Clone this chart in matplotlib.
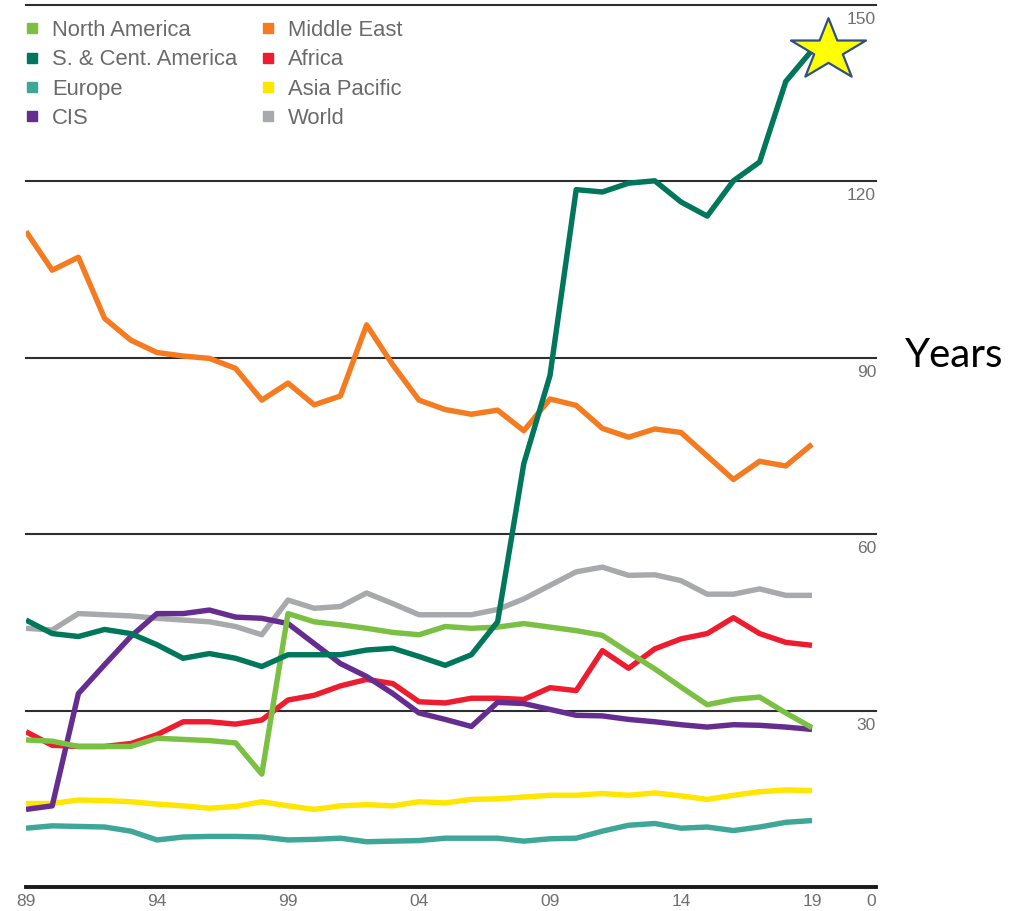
import numpy as np
import matplotlib
matplotlib.use("Agg")
import matplotlib.pyplot as plt
from matplotlib.lines import Line2D
from matplotlib.path import Path

years = np.arange(1989, 2020)

north_america = [25.0, 24.8, 23.9, 23.9, 23.9, 25.3, 25.1, 24.9, 24.5, 19.2, 46.5,
                 45.1, 44.6, 44.0, 43.3, 42.9, 44.3, 44.0, 44.2, 44.8, 44.2, 43.6,
                 42.8, 39.9, 37.1, 34.0, 31.0, 31.9, 32.3, 29.6, 27.1]
sc_america = [45.4, 43.1, 42.6, 43.8, 43.1, 41.2, 38.9, 39.7, 38.9, 37.5, 39.5,
              39.5, 39.5, 40.3, 40.6, 39.2, 37.7, 39.5, 45.1, 72.0, 87.0, 118.6,
              118.2, 119.7, 120.1, 116.5, 114.1, 120.1, 123.3, 137.0, 142.3]
europe = [10.0, 10.4, 10.3, 10.2, 9.5, 8.0, 8.5, 8.6, 8.6, 8.5, 8.0, 8.1, 8.3,
          7.7, 7.8, 7.9, 8.3, 8.3, 8.3, 7.8, 8.2, 8.3, 9.5, 10.5, 10.8, 10.0,
          10.2, 9.6, 10.2, 11.0, 11.3]
cis = [13.2, 13.8, 32.9, 37.8, 42.6, 46.5, 46.5, 47.1, 45.9, 45.7, 44.8, 41.4,
       38.0, 35.8, 32.9, 29.6, 28.5, 27.3, 31.4, 31.2, 30.2, 29.2, 29.1, 28.5,
       28.1, 27.6, 27.2, 27.6, 27.5, 27.2, 26.8]
middle_east = [111.5, 104.9, 107.1, 96.7, 93.0, 90.9, 90.3, 89.9, 88.2, 82.8,
               85.7, 82.0, 83.5, 95.6, 88.8, 82.8, 81.2, 80.4, 81.1, 77.6, 83.0,
               81.9, 78.0, 76.5, 77.9, 77.3, 73.3, 69.3, 72.4, 71.6, 75.3]
africa = [26.4, 24.1, 23.9, 23.9, 24.4, 25.9, 28.1, 28.1, 27.7, 28.4, 31.8, 32.6,
          34.2, 35.3, 34.6, 31.5, 31.3, 32.1, 32.1, 31.9, 33.9, 33.4, 40.2, 37.2,
          40.5, 42.2, 43.1, 45.8, 43.1, 41.6, 41.1]
asia_pacific = [14.2, 14.2, 14.8, 14.7, 14.5, 14.1, 13.8, 13.4, 13.7, 14.5, 13.8,
                13.2, 13.8, 14.0, 13.8, 14.5, 14.3, 14.9, 15.0, 15.3, 15.6, 15.6,
                15.9, 15.6, 16.0, 15.5, 14.9, 15.6, 16.2, 16.5, 16.4]
world = [44.0, 43.7, 46.5, 46.3, 46.1, 45.7, 45.4, 45.1, 44.3, 42.9, 48.8, 47.4,
         47.7, 50.0, 48.2, 46.3, 46.3, 46.3, 47.2, 49.0, 51.3, 53.6, 54.4, 53.0,
         53.1, 52.1, 49.8, 49.8, 50.7, 49.6, 49.6]

legend_names = ["North America", "S. & Cent. America", "Europe", "CIS",
                "Middle East", "Africa", "Asia Pacific", "World"]
colors = {
    "North America": "#7AC143",
    "S. & Cent. America": "#00765A",
    "Europe": "#3FA797",
    "CIS": "#662D91",
    "Middle East": "#F47B20",
    "Africa": "#ED1C2E",
    "Asia Pacific": "#FFE600",
    "World": "#A7A9AC",
}
series = {
    "North America": north_america,
    "S. & Cent. America": sc_america,
    "Europe": europe,
    "CIS": cis,
    "Middle East": middle_east,
    "Africa": africa,
    "Asia Pacific": asia_pacific,
    "World": world,
}
# bottom -> top
draw_order = ["World", "Asia Pacific", "Europe", "Africa", "Middle East", "CIS",
              "North America", "S. & Cent. America"]

grid_levels = [30, 60, 90, 120, 150]
y_labels = [0, 30, 60, 90, 120, 150]
tick_years = [1989, 1994, 1999, 2004, 2009, 2014, 2019]

W, H = 1031, 911
fig = plt.figure(figsize=(W / 100, H / 100), dpi=100)
ax = fig.add_axes([26 / W, 24 / H, 850 / W, 882 / H])
ax.set_xlim(1989, 1989 + 850 / 26.2)
ax.set_ylim(0, 150)

for lvl in grid_levels:
    ax.axhline(lvl, color="#2e2e2e", lw=1.5, zorder=1, clip_on=False)

for name in draw_order:
    ax.plot(years, series[name], color=colors[name], lw=3.9,
            solid_joinstyle="round", solid_capstyle="butt", zorder=2)

for side in ("left", "right", "top"):
    ax.spines[side].set_visible(False)
ax.spines["bottom"].set_linewidth(2.8)
ax.spines["bottom"].set_color("#1a1a1a")
ax.set_yticks([])
ax.set_xticks(tick_years)
ax.set_xticklabels([f"{y % 100:02d}" for y in tick_years])
ax.tick_params(axis="x", length=0, pad=5, labelsize=12.5, labelcolor="#707070")
for lab in ax.get_xticklabels():
    lab.set_family("Liberation Sans")

# value labels sit just under each gridline, flush right
for v in y_labels:
    ax.annotate(str(v), xy=(1, v), xycoords=("axes fraction", "data"),
                xytext=(0, -5), textcoords="offset points", ha="right", va="top",
                fontsize=12.5, color="#707070", family="Liberation Sans")

# star on the end of the S. & Cent. America line (slightly wide)
k = np.arange(10)
r = np.where(k % 2 == 0, 1.0, 0.382)
ang = np.pi / 2 + k * np.pi / 5
star = np.column_stack([1.22 * r * np.cos(ang), r * np.sin(ang)])
star_path = Path(np.vstack([star, star[:1]]), closed=True)
ax.plot([years[-1] + 0.6], [sc_america[-1]], marker=star_path, markersize=54,
        markerfacecolor="#FFFF00", markeredgecolor="#2F4E8C", markeredgewidth=1.6,
        linestyle="none", zorder=5, clip_on=False)

handles = [Line2D([], [], marker="s", linestyle="none", markersize=7.5,
                  markerfacecolor=colors[n], markeredgecolor=colors[n])
           for n in legend_names]
leg = ax.legend(handles, legend_names, loc="upper left", ncol=2,
                bbox_to_anchor=(-0.012, 0.993), frameon=False,
                handlelength=0.7, handletextpad=0.55, columnspacing=1.05,
                labelspacing=0.38, borderaxespad=0,
                prop={"family": "Liberation Sans", "size": 15.8})
for t in leg.get_texts():
    t.set_color("#6a6a6a")

fig.text(905 / W, 1 - 355 / H, "Years", ha="left", va="center",
         fontsize=29, family="Lato", color="black")

fig.savefig("out.png", dpi=100)
